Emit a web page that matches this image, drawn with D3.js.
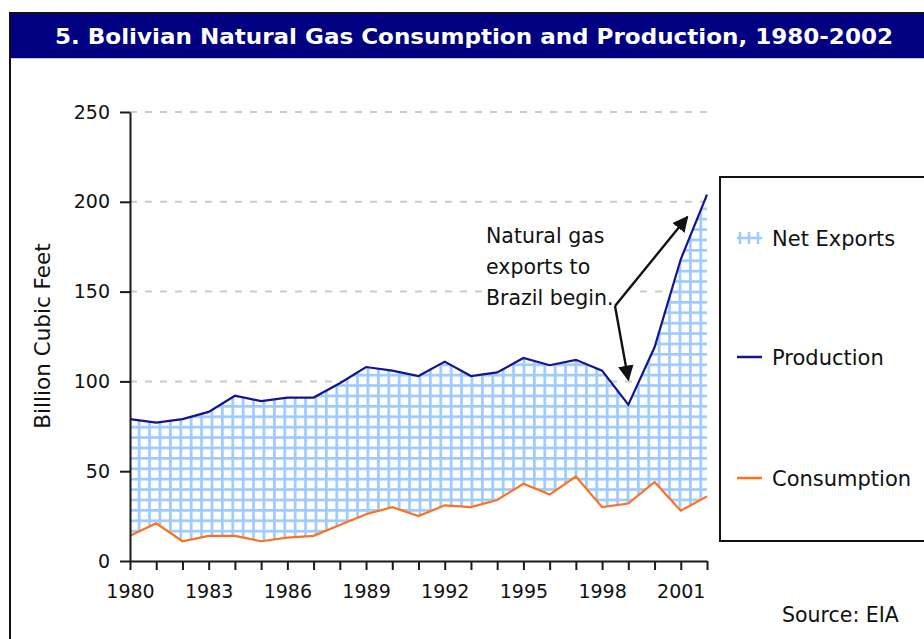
<!DOCTYPE html>
<html lang="en">

<head>
  <meta charset="UTF-8">
  <title>Bolivian Natural Gas Consumption and Production, 1980-2002</title>
  <style>
    * {
      margin: 0;
      padding: 0;
      box-sizing: border-box;
    }

    body {
      background-color: white;
      width: 924px;
      height: 639px;
      overflow: hidden;
    }

    svg text {
      font-family: "DejaVu Sans", Verdana, sans-serif;
      fill: #111;
    }
  </style>
  <script src="https://cdnjs.cloudflare.com/ajax/libs/d3/7.8.5/d3.min.js"></script>
</head>

<body>
  <svg id="chart" width="924" height="639"></svg>

  <script>
    // Data (billion cubic feet)
    const years = [1980, 1981, 1982, 1983, 1984, 1985, 1986, 1987, 1988, 1989, 1990, 1991,
      1992, 1993, 1994, 1995, 1996, 1997, 1998, 1999, 2000, 2001, 2002];
    const production = [79, 77, 79, 83, 92, 89, 91, 91, 99, 108, 106, 103,
      111, 103, 105, 113, 109, 112, 106, 87, 119, 168, 204];
    const consumption = [14, 21, 11, 14, 14, 11, 13, 14, 20, 26, 30, 25,
      31, 30, 34, 43, 37, 47, 30, 32, 44, 28, 36];
    const yTicks = [0, 50, 100, 150, 200, 250];
    const xLabelYears = [1980, 1983, 1986, 1989, 1992, 1995, 1998, 2001];
    const legendItems = ['Net Exports', 'Production', 'Consumption'];
    const noteLines = ['Natural gas', 'exports to', 'Brazil begin.'];
    // where the two annotation arrows point (year, value)
    const arrowTargets = [[2001.25, 191.5], [1999, 101]];

    const navy = '#000080';
    const prodColor = '#14148c';
    const consColor = '#ff7020';
    const hatchColor = '#9ecbff';

    const svg = d3.select('#chart');

    const x = d3.scaleLinear().domain([1980, 2002]).range([130, 707]);
    const y = d3.scaleLinear().domain([0, 250]).range([561, 112]);

    const data = years.map((yr, i) => ({ year: yr, prod: production[i], cons: consumption[i] }));

    // hatch pattern for net exports
    const defs = svg.append('defs');
    const pat = defs.append('pattern')
      .attr('id', 'hatch')
      .attr('patternUnits', 'userSpaceOnUse')
      .attr('x', 137.8)
      .attr('y', 457)
      .attr('width', 10.4)
      .attr('height', 10.4);
    pat.append('rect').attr('width', 10.4).attr('height', 10.4).attr('fill', 'white');
    pat.append('rect').attr('width', 2.7).attr('height', 10.4).attr('fill', hatchColor);
    pat.append('rect').attr('width', 10.4).attr('height', 2.7).attr('fill', hatchColor);

    // frame and title bar
    svg.append('rect')
      .attr('x', 10).attr('y', 13)
      .attr('width', 930).attr('height', 640)
      .attr('fill', 'white')
      .attr('stroke', '#111')
      .attr('stroke-width', 2);

    svg.append('rect')
      .attr('x', 11).attr('y', 14)
      .attr('width', 920).attr('height', 44)
      .attr('fill', navy);

    svg.append('line')
      .attr('x1', 11).attr('x2', 924)
      .attr('y1', 58.5).attr('y2', 58.5)
      .attr('stroke', '#c8c8dc');

    svg.append('text')
      .attr('x', 55).attr('y', 44)
      .attr('textLength', 838)
      .attr('lengthAdjust', 'spacingAndGlyphs')
      .style('font-size', '21px')
      .style('font-weight', 'bold')
      .style('fill', 'white')
      .text('5. Bolivian Natural Gas Consumption and Production, 1980-2002');

    // gridlines
    svg.append('g')
      .selectAll('line')
      .data(yTicks.filter(d => d > 0))
      .enter()
      .append('line')
      .attr('x1', x(1980)).attr('x2', x(2002))
      .attr('y1', d => y(d)).attr('y2', d => y(d))
      .attr('stroke', '#cacaca')
      .attr('stroke-width', 2)
      .attr('stroke-dasharray', '7 8');

    // net exports area
    const area = d3.area()
      .x(d => x(d.year))
      .y0(d => y(d.cons))
      .y1(d => y(d.prod));

    svg.append('path')
      .datum(data)
      .attr('d', area)
      .attr('fill', 'url(#hatch)');

    const prodLine = d3.line().x(d => x(d.year)).y(d => y(d.prod));
    const consLine = d3.line().x(d => x(d.year)).y(d => y(d.cons));

    svg.append('path')
      .datum(data)
      .attr('d', prodLine)
      .attr('fill', 'none')
      .attr('stroke', prodColor)
      .attr('stroke-width', 2.2);

    svg.append('path')
      .datum(data)
      .attr('d', consLine)
      .attr('fill', 'none')
      .attr('stroke', consColor)
      .attr('stroke-width', 2.2);

    // axes
    const yAxis = d3.axisLeft(y)
      .tickValues(yTicks)
      .tickSize(10)
      .tickSizeOuter(0)
      .tickPadding(10);

    const yg = svg.append('g')
      .attr('transform', `translate(${x(1980)},0)`)
      .call(yAxis);

    const xAxis = d3.axisBottom(x)
      .tickValues(years)
      .tickSize(9)
      .tickSizeOuter(0)
      .tickPadding(15)
      .tickFormat(d => xLabelYears.includes(d) ? String(d) : '');

    const xg = svg.append('g')
      .attr('transform', `translate(0,${y(0)})`)
      .call(xAxis);

    [yg, xg].forEach(g => {
      g.selectAll('path, line').attr('stroke', '#1a1a1a').attr('stroke-width', 2);
      g.selectAll('text')
        .style('font-size', '19px')
        .style('font-family', '"DejaVu Sans", Verdana, sans-serif')
        .attr('fill', '#111');
    });

    svg.append('text')
      .attr('transform', 'translate(50,336) rotate(-90)')
      .attr('text-anchor', 'middle')
      .style('font-size', '21.5px')
      .text('Billion Cubic Feet');

    // annotation
    svg.append('rect')
      .attr('x', 482).attr('y', 219)
      .attr('width', 152).attr('height', 94)
      .attr('fill', 'white');

    svg.append('g')
      .selectAll('text')
      .data(noteLines)
      .enter()
      .append('text')
      .attr('x', 486)
      .attr('y', (d, i) => 243 + i * 31)
      .style('font-size', '20.5px')
      .text(d => d);

    defs.append('marker')
      .attr('id', 'arrow')
      .attr('viewBox', '0 0 10 10')
      .attr('refX', 9).attr('refY', 5)
      .attr('markerWidth', 6.5).attr('markerHeight', 6.5)
      .attr('orient', 'auto')
      .append('path')
      .attr('d', 'M0,0 L10,5 L0,10 z')
      .attr('fill', '#111');

    const origin = [615, 306];
    arrowTargets.forEach(([yr, v]) => {
      svg.append('line')
        .attr('x1', origin[0]).attr('y1', origin[1])
        .attr('x2', x(yr)).attr('y2', y(v))
        .attr('stroke', '#111')
        .attr('stroke-width', 2.4)
        .attr('marker-end', 'url(#arrow)');
    });

    // legend
    const lg = svg.append('g');
    lg.append('rect')
      .attr('x', 720).attr('y', 177)
      .attr('width', 240).attr('height', 364)
      .attr('fill', 'white')
      .attr('stroke', '#111')
      .attr('stroke-width', 2);

    const legendY = [238, 357, 478];
    legendItems.forEach((name, i) => {
      const ly = legendY[i];
      if (i === 0) {
        lg.append('line')
          .attr('x1', 737).attr('x2', 762)
          .attr('y1', ly).attr('y2', ly)
          .attr('stroke', hatchColor).attr('stroke-width', 2.5);
        [740, 749, 758].forEach(vx => {
          lg.append('line')
            .attr('x1', vx).attr('x2', vx)
            .attr('y1', ly - 6).attr('y2', ly + 6)
            .attr('stroke', hatchColor).attr('stroke-width', 2.5);
        });
      } else {
        lg.append('line')
          .attr('x1', 737).attr('x2', 762)
          .attr('y1', ly).attr('y2', ly)
          .attr('stroke', i === 1 ? prodColor : consColor)
          .attr('stroke-width', 2.5);
      }
      lg.append('text')
        .attr('x', 772).attr('y', ly + 8)
        .style('font-size', '21px')
        .text(name);
    });

    svg.append('text')
      .attr('x', 782).attr('y', 622)
      .style('font-size', '20.5px')
      .text('Source:  EIA');
  </script>
</body>

</html>
